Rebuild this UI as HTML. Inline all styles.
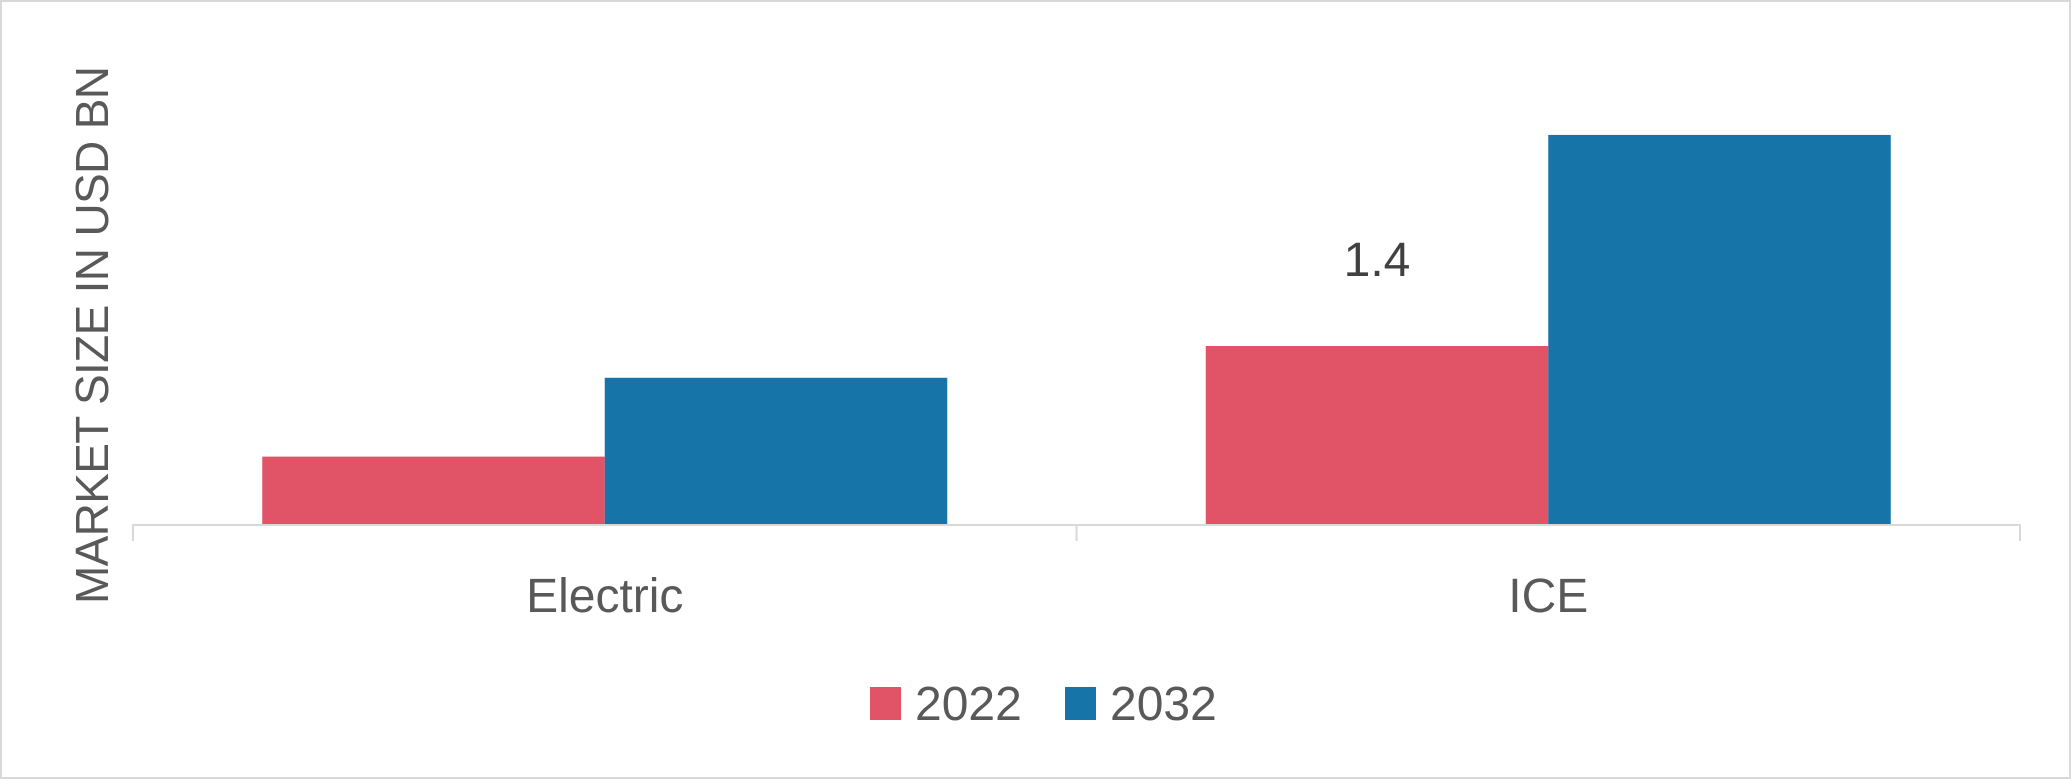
<!DOCTYPE html>
<html><head><meta charset="utf-8"><style>
html,body{margin:0;padding:0;background:#fff;}
svg{display:block;font-family:"Liberation Sans",sans-serif;}
</style></head><body>
<svg width="2071" height="779" viewBox="0 0 2071 779">
<rect x="1" y="1" width="2069" height="777" fill="#fff" stroke="#d9d9d9" stroke-width="2"/>
<text transform="translate(108,335) rotate(-90)" text-anchor="middle" font-size="46" fill="#595959" textLength="538" lengthAdjust="spacing">MARKET SIZE IN USD BN</text>
<g id="plot"></g>
<g>
<rect x="870" y="687" width="31" height="33" fill="#E15468"/>
<text x="915" y="720" font-size="48" fill="#595959">2022</text>
<rect x="1065" y="687" width="31" height="33" fill="#1674A8"/>
<text x="1110" y="720" font-size="48" fill="#595959">2032</text>
</g>
</svg>
<script>
const categories = ["Electric", "ICE"];
const series2022 = [0.53, 1.4];
const series2032 = [1.15, 3.06];
const dataLabels2022 = ["", "1.4"];
const NS = "http://www.w3.org/2000/svg";
const plot = document.getElementById("plot");
const x0 = 133, x1 = 2020, baseY = 524, pxPerUnit = 178 / 1.4;
const groupW = (x1 - x0) / categories.length;
const barW = 342.5;
function yScale(v){ return baseY - v * pxPerUnit; }
function xGroup(i){ return x0 + groupW * i + groupW / 2; }
function mk(tag, attrs){ const e = document.createElementNS(NS, tag); for (const k in attrs) e.setAttribute(k, attrs[k]); plot.appendChild(e); return e; }
categories.forEach((c, i) => {
  const cx = xGroup(i);
  const r1 = mk("rect", {x: cx - barW, y: yScale(series2022[i]), width: barW, height: baseY - yScale(series2022[i]), fill: "#E15468"});
  
  
  const r2 = mk("rect", {x: cx, y: yScale(series2032[i]), width: barW, height: baseY - yScale(series2032[i]), fill: "#1674A8"});
  
  
  const t = mk("text", {x: cx, y: 612, "text-anchor": "middle", "font-size": "48", fill: "#595959"});
  t.textContent = c;
  
  
  if (dataLabels2022[i]) {
    const d = mk("text", {x: cx - barW / 2, y: yScale(series2022[i]) - 70, "text-anchor": "middle", "font-size": "48", fill: "#404040"});
    d.textContent = dataLabels2022[i];
    
    
  }
});
const ax = mk("line", {x1: x0, y1: baseY + 1, x2: x1, y2: baseY + 1, stroke: "#d9d9d9", "stroke-width": 2});


for (let i = 0; i <= categories.length; i++) {
  const tx = x0 + groupW * i;
  const tk = mk("line", {x1: tx, y1: baseY, x2: tx, y2: 541, stroke: "#d9d9d9", "stroke-width": 2});
  
  
}
</script>
</body></html>
